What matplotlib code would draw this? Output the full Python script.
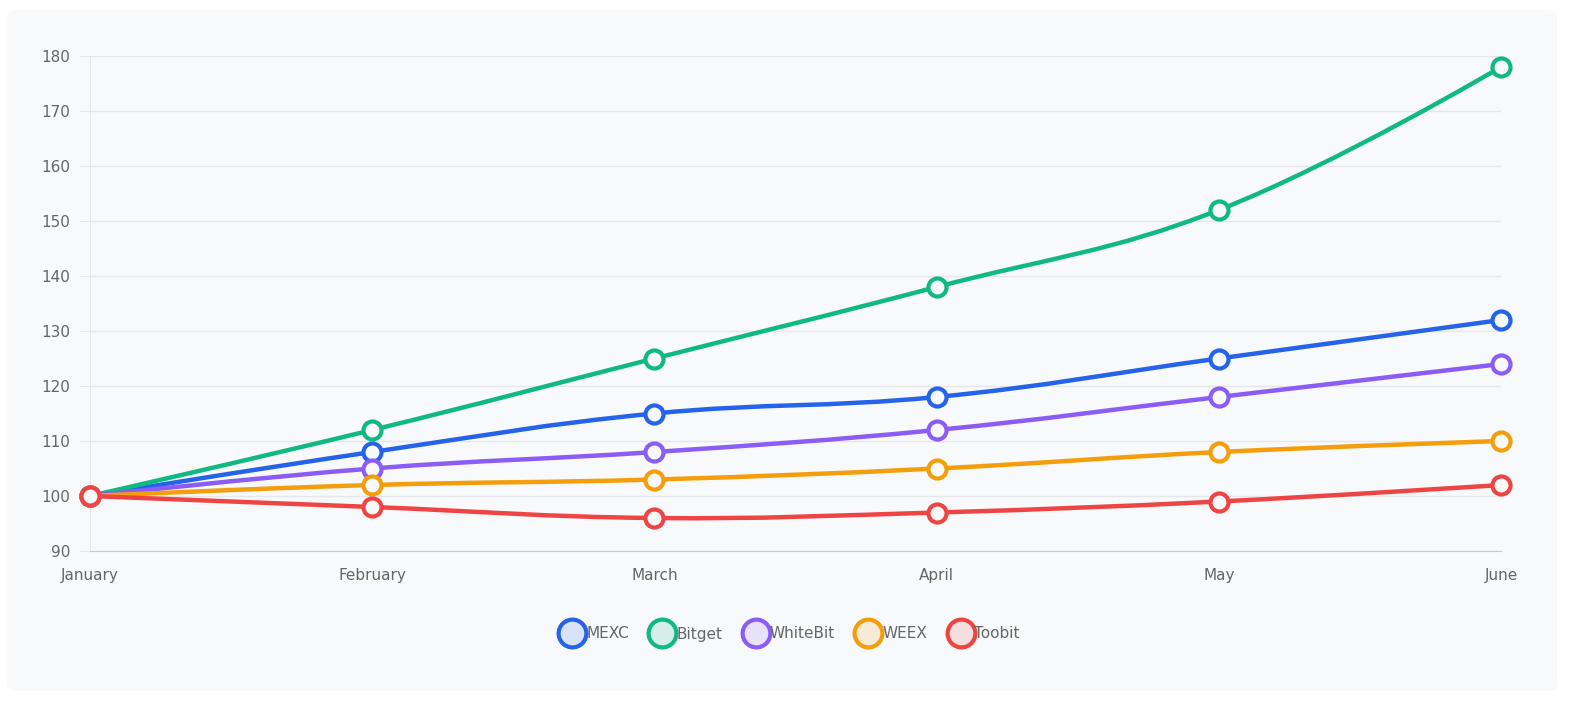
import matplotlib

matplotlib.use("Agg")
import matplotlib.pyplot as plt
from matplotlib.path import Path
from matplotlib.patches import PathPatch, FancyBboxPatch
from matplotlib.lines import Line2D
from matplotlib.colors import to_rgba

months = ["January", "February", "March", "April", "May", "June"]
series_names = ["MEXC", "Bitget", "WhiteBit", "WEEX", "Toobit"]
mexc = [100, 108, 115, 118, 125, 132]
bitget = [100, 112, 125, 138, 152, 178]
whitebit = [100, 105, 108, 112, 118, 124]
weex = [100, 102, 103, 105, 108, 110]
toobit = [100, 98, 96, 97, 99, 102]
colors = ["#2563eb", "#10b981", "#8b5cf6", "#f59e0b", "#ef4444"]

# pixel scale per data unit, used for spline control point weighting
SX, SY = 282.0, 5.5


def smooth_path(xs, ys, tension=0.4):
    n = len(xs)
    cps = []
    for i in range(n):
        if i == 0 or i == n - 1:
            cps.append(((xs[i], ys[i]), (xs[i], ys[i])))
            continue
        px, py = xs[i - 1], ys[i - 1]
        nx, ny = xs[i + 1], ys[i + 1]
        d01 = ((xs[i] - px) ** 2 * SX**2 + (ys[i] - py) ** 2 * SY**2) ** 0.5
        d12 = ((nx - xs[i]) ** 2 * SX**2 + (ny - ys[i]) ** 2 * SY**2) ** 0.5
        fa = tension * d01 / (d01 + d12)
        fb = tension * d12 / (d01 + d12)
        prev_cp = (xs[i] - fa * (nx - px), ys[i] - fa * (ny - py))
        next_cp = (xs[i] + fb * (nx - px), ys[i] + fb * (ny - py))
        cps.append((prev_cp, next_cp))
    verts = [(xs[0], ys[0])]
    codes = [Path.MOVETO]
    for i in range(1, n):
        verts += [cps[i - 1][1], cps[i][0], (xs[i], ys[i])]
        codes += [Path.CURVE4] * 3
    return Path(verts, codes)


fig = plt.figure(figsize=(15.8, 7.11), dpi=100)
fig.patch.set_facecolor("white")
fig.patches.append(FancyBboxPatch((7 / 1580, 20 / 711), 1550 / 1580, 681 / 711,
                                  boxstyle="round,pad=0,rounding_size=0.008",
                                  transform=fig.transFigure, facecolor="#f8f9fb",
                                  edgecolor="none", zorder=-10))

ax = fig.add_axes([90 / 1580, 1 - 551 / 711, 1411 / 1580, 495 / 711])
ax.set_facecolor("none")

data = [mexc, bitget, whitebit, weex, toobit]
x = list(range(len(months)))
handles = []
for name, vals, c in zip(series_names, data, colors):
    ax.add_patch(PathPatch(smooth_path(x, vals), facecolor="none", edgecolor=c,
                           lw=3.2, zorder=3, clip_on=False))
    ax.plot(x, vals, ls="none", marker="o", ms=13, mfc="#f8f9fb", mec=c, mew=3,
            zorder=4, clip_on=False)
    handles.append(Line2D([], [], ls="none", marker="o", ms=20,
                          mfc=to_rgba(c, 0.15), mec=c, mew=3, label=name))

ax.set_xlim(0, 5)
ax.set_ylim(90, 180)
ax.set_yticks(range(90, 181, 10))
ax.set_xticks(x)
ax.set_xticklabels(months)
ax.grid(axis="y", color="#e5e7eb", lw=1)
ax.set_axisbelow(True)
for s in ["top", "right"]:
    ax.spines[s].set_visible(False)
ax.spines["left"].set_color("#e5e7eb")
ax.spines["bottom"].set_color("#c8ccd2")
ax.tick_params(colors="#666666", labelsize=11, length=0, pad=12)
ax.tick_params(axis="y", length=8, color="#e5e7eb", pad=6)

fig.legend(handles=handles, loc="center", bbox_to_anchor=(0.5, 1 - 634 / 711),
           ncol=5, frameon=False, fontsize=11, labelcolor="#666666",
           handletextpad=0.1, columnspacing=1.4, handlelength=1.6)

fig.savefig("out.png", dpi=100)
